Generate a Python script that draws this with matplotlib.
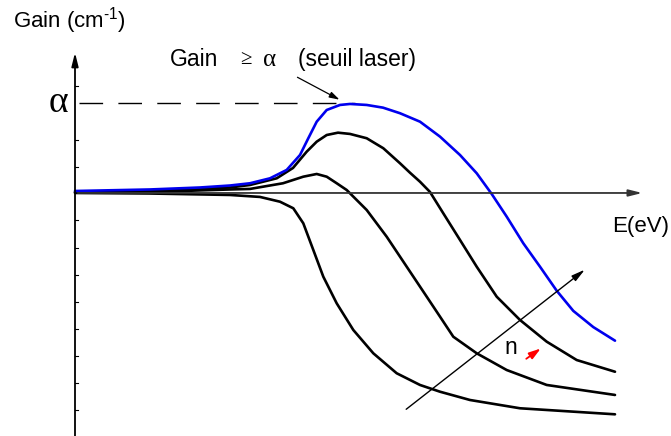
import matplotlib
matplotlib.use("Agg")
import matplotlib.pyplot as plt

plt.rcParams['font.family'] = ['Liberation Sans', 'DejaVu Sans']
plt.rcParams['mathtext.fontset'] = 'custom'
plt.rcParams['mathtext.rm'] = 'Liberation Sans'

# energie (unites arbitraires) et gain (alpha = 1)
E_bleu = [0.00, 0.75, 1.25, 1.55, 1.75, 1.95, 2.117, 2.25, 2.333, 2.417, 2.517, 2.65, 2.75,
          2.917, 3.08, 3.25, 3.45, 3.65, 3.85, 4.017, 4.167, 4.317, 4.483, 4.65, 4.817,
          4.983, 5.183, 5.40]
G_bleu = [0.022, 0.039, 0.061, 0.083, 0.108, 0.163, 0.256, 0.422, 0.608, 0.792, 0.922, 0.978, 0.989,
          0.978, 0.948, 0.886, 0.792, 0.626, 0.422, 0.219, -0.011, -0.263, -0.559, -0.819, -1.086,
          -1.31, -1.49, -1.641]

E_n3 = [0.00, 0.75, 1.55, 1.75, 2.017, 2.18, 2.317, 2.417, 2.517, 2.63, 2.75, 2.917, 3.083,
        3.25, 3.35, 3.45, 3.55, 3.683, 3.85, 4.017, 4.217, 4.45, 4.717, 5.017, 5.40]
G_n3 = [0.011, 0.022, 0.061, 0.089, 0.163, 0.278, 0.459, 0.570, 0.644, 0.670, 0.656, 0.608, 0.497,
        0.330, 0.225, 0.125, 0.011, -0.226, -0.522, -0.819, -1.152, -1.411, -1.652, -1.856, -1.986]

E_n2 = [0.00, 0.75, 1.55, 1.75, 2.08, 2.283, 2.417, 2.517, 2.617, 2.717, 2.917, 3.117, 3.317,
        3.517, 3.65, 3.783, 4.017, 4.317, 4.717, 5.40]
G_n2 = [0.006, 0.011, 0.039, 0.045, 0.108, 0.181, 0.211, 0.181, 0.108, 0.033, -0.189, -0.486, -0.819,
        -1.152, -1.374, -1.597, -1.781, -1.967, -2.133, -2.244]

E_n1 = [0.00, 0.75, 1.55, 1.85, 2.05, 2.183, 2.283, 2.383, 2.483, 2.617, 2.783, 2.983, 3.217,
        3.45, 3.65, 3.95, 4.45, 5.40]
G_n1 = [0.0, -0.006, -0.022, -0.044, -0.097, -0.170, -0.337, -0.633, -0.930, -1.226, -1.522, -1.781,
        -2.003, -2.133, -2.208, -2.30, -2.392, -2.459]

alpha = 1.0
graduations = [1.189, 0.589, 0.289, -0.30, -0.611, -0.911, -1.211, -1.511, -1.811, -2.111, -2.411]

fig = plt.figure(figsize=(6.71, 4.36), dpi=100)
ax = fig.add_axes([0, 0, 1, 1])
ax.set_xlim(-0.75, 5.96)
ax.set_ylim(-2.7, 2.144)
ax.axis('off')

# axes avec fleches
ax.annotate('', xy=(0, 1.59), xytext=(0, -2.75),
            arrowprops=dict(arrowstyle='-|>,head_length=0.8,head_width=0.2', color='black', lw=1.3))
ax.annotate('', xy=(5.70, 0), xytext=(0, 0),
            arrowprops=dict(arrowstyle='-|>,head_length=0.8,head_width=0.2', color='#333333', lw=1.3))
for g in graduations:
    ax.plot([0, 0.025], [g, g], color='black', lw=0.8)

# seuil alpha
ax.plot([0.04, 2.8], [alpha, alpha], color='black', lw=1, dashes=(17, 11))

style = dict(lw=1.9, solid_joinstyle='round', solid_capstyle='round')
ax.plot(E_n1, G_n1, color='black', **style)
ax.plot(E_n2, G_n2, color='black', **style)
ax.plot(E_n3, G_n3, color='black', **style)
ax.plot(E_bleu, G_bleu, color='#0000ee', **style)

ax.text(-0.62, 1.92, r'Gain (cm$^{\text{-1}}$)', fontsize=16, va='center', ha='left')
ax.text(-0.07, alpha, '\u03b1', fontsize=27, ha='right', va='center', family='Liberation Serif')
ax.text(5.37, -0.37, 'E(eV)', fontsize=16, ha='left', va='center')

ax.text(0.95, 1.48, 'Gain', fontsize=16.5, ha='left', va='center')
ax.text(1.65, 1.48, '\u2265', fontsize=15, ha='left', va='center', family='Liberation Serif')
ax.text(1.88, 1.48, '\u03b1', fontsize=18, ha='left', va='center', family='Liberation Serif')
ax.text(2.23, 1.48, '(seuil laser)', fontsize=16.5, ha='left', va='center')
ax.annotate('', xy=(2.67, 1.022), xytext=(2.20, 1.30),
            arrowprops=dict(arrowstyle='-|>,head_length=0.6,head_width=0.18', color='black', lw=0.9))

# fleche n croissant
ax.annotate('', xy=(5.12, -0.833), xytext=(3.29, -2.422),
            arrowprops=dict(arrowstyle='-|>,head_length=0.8,head_width=0.2', color='black', lw=1.0))
ax.text(4.36, -1.72, 'n', fontsize=16.5, ha='center', va='center')
ax.annotate('', xy=(4.68, -1.71), xytext=(4.49, -1.86),
            arrowprops=dict(arrowstyle='-|>,head_length=0.7,head_width=0.22', color='red', lw=1.3))

fig.savefig('out.png', dpi=100)
